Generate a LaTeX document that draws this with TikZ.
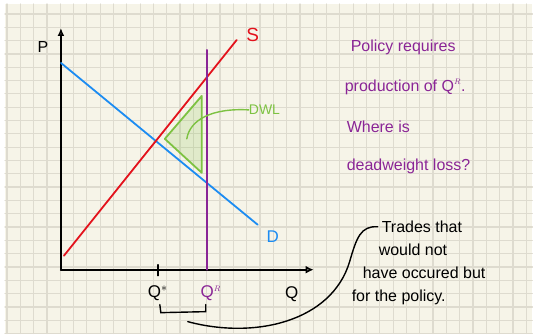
\documentclass[tikz,border=0pt]{standalone}
\usepackage{tikz}
\usetikzlibrary{positioning, arrows.meta, calc}
\usepackage{fontspec}
\setmainfont{Liberation Sans}
\usepackage{xcolor}
\definecolor{gpaper}{HTML}{F6F4E8}
\definecolor{ggrid}{HTML}{DEDBCF}
\definecolor{gred}{HTML}{E3121C}
\definecolor{gblue}{HTML}{1C8CF2}
\definecolor{gpurple}{HTML}{8A2596}
\definecolor{ggreen}{HTML}{7DC242}

\begin{document}
\begin{tikzpicture}[x=1pt, y=-1pt, line cap=round,
    hand/.style={font=\fontsize{16}{18}\selectfont, inner sep=0pt},
    note/.style={hand, text=gpurple, anchor=west},
    trade/.style={hand, font=\fontsize{16}{18}\selectfont, anchor=west}]
        % paper
        \fill[white] (0,0) rectangle (533,334);
        \fill[gpaper] (5,4) rectangle (533,334);
        \foreach \k in {0,...,39}
          \draw[ggrid, line width=1.2pt] ({7+13.33*\k},4) -- ({7+13.33*\k},334);
        \foreach \k in {0,...,24}
          \draw[ggrid, line width=1.2pt] (5,{14+13.33*\k}) -- (533,{14+13.33*\k});
        \useasboundingbox (0,0) rectangle (533,334);

        % axes
        \coordinate (o) at (61,270);
        \draw[line width=2.2pt, -{Latex[open, length=8pt, width=7pt]}] (o) -- (61,28);
        \draw[line width=2.2pt, -{Latex[open, length=8pt, width=8pt]}] (o) -- (314,270);
        \node[hand] (p) at (43,47) {P};
        \node[hand, font=\fontsize{17}{19}\selectfont] (q) at (292,295) {Q};

        % curves
        \coordinate (d0) at (61,63);
        \coordinate (d1) at (258,225);
        \coordinate (s0) at (64,256);
        \coordinate (s1) at (237,40);
        \draw[gblue, line width=1.8pt] (d0) -- (d1);
        \draw[gred, line width=1.8pt] (s0) -- (s1);
        \draw[gpurple, line width=1.8pt] (207,50) -- (207,270);
        \node[hand, text=gred, font=\fontsize{19}{21}\selectfont] (slab) at (253,35) {S};
        \node[hand, text=gblue, font=\fontsize{17}{19}\selectfont] (dlab) at (273,237) {D};

        % DWL
        \coordinate (t0) at (165,139);
        \coordinate (t1) at (202,96);
        \coordinate (t2) at (202,173);
        \fill[ggreen, opacity=0.18] (t0) -- (t1) -- (t2) -- cycle;
        \draw[ggreen, line width=1.8pt, line join=round] (t0) -- (t1) -- (t2) -- cycle;
        \node[hand, text=ggreen, font=\fontsize{14}{16}\selectfont, anchor=west] (dwl) at (249,110) {DWL};
        \draw[ggreen, line width=1.4pt] (dwl.west) .. controls (212,108) and (190,120) .. (187,139);

        % quantities
        \draw[line width=1.4pt] (158,265) -- (158,276);
        \node[hand, font=\fontsize{17}{19}\selectfont] (qstar) at (158,294) {Q$^{*}$};
        \node[hand, text=gpurple, font=\fontsize{17}{19}\selectfont] (qr) at (211,294) {Q$^{\scriptscriptstyle R}$};
        \draw[line width=1.4pt] (160,305) -- (161,313) -- (206,312) -- (206,305);

        % text
        \node[note] (n1) at (351,47) {Policy requires};
        \node[note] (n2) at (345,87) {production of Q$^{\scriptscriptstyle R}$.};
        \node[note] (n3) at (347,127) {Where is};
        \node[note] (n4) at (347,167) {deadweight loss?};

        \node[trade] (m1) at (382,227) {Trades that};
        \node[trade] (m2) at (379,250) {would not};
        \node[trade] (m3) at (363,273) {have occured but};
        \node[trade] (m4) at (352,298) {for the policy.};
        \draw[line width=1.4pt] (188,322) .. controls (255,340) and (332,322) .. (350,262)
          .. controls (357,238) and (361,226) .. ([xshift=-4pt]m1.west);
\end{tikzpicture}
\end{document}
